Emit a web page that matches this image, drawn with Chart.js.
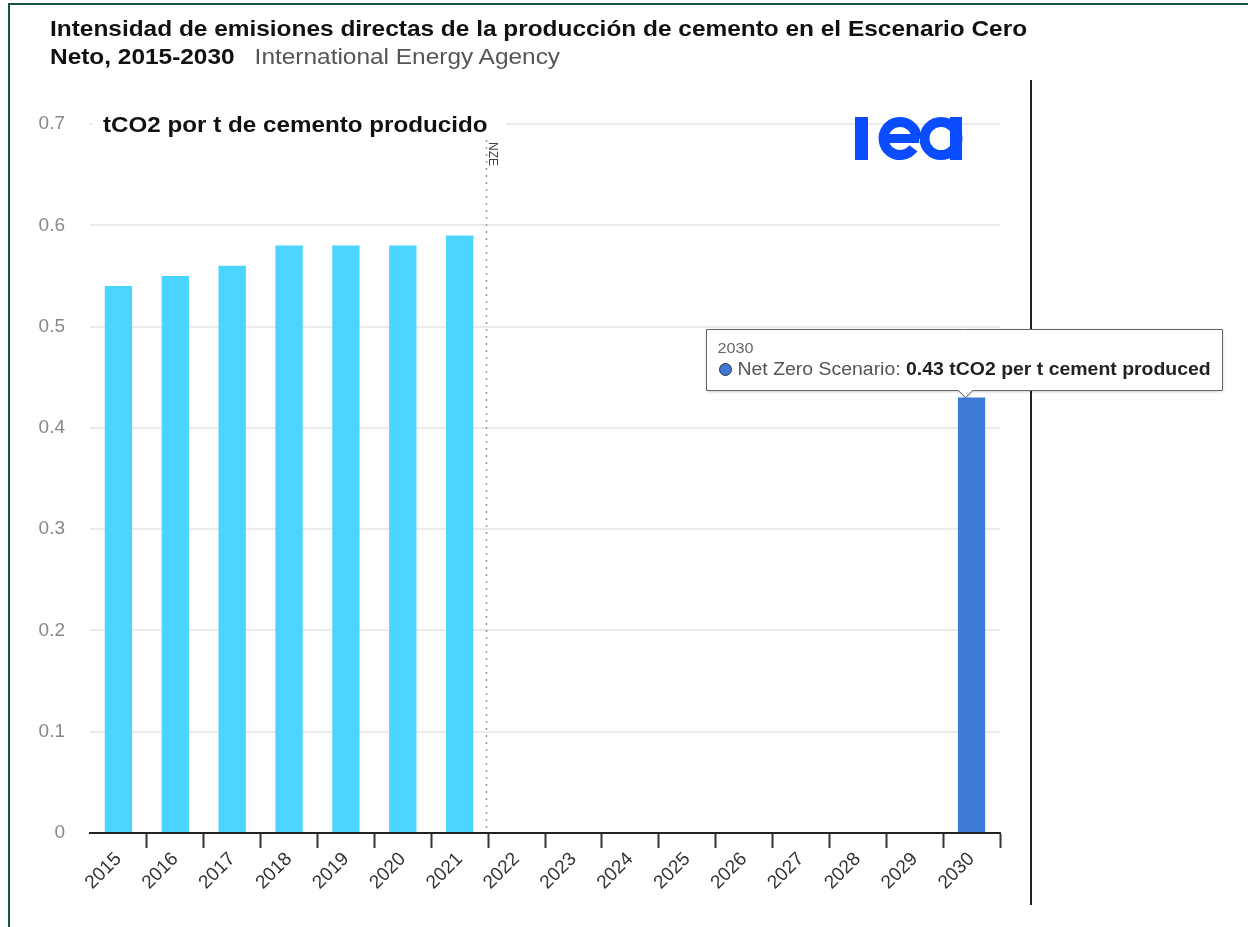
<!DOCTYPE html>
<html>
<head>
<meta charset="utf-8">
<script src="https://cdn.jsdelivr.net/npm/chart.js@4.4.1/dist/chart.umd.min.js"></script>
<style>
  body { margin: 0; background: #fff; font-family: "Liberation Sans", Arial, sans-serif; }
  #wrap { position: relative; width: 1248px; height: 927px; overflow: hidden; background: #fff; }
  #frame { position: absolute; left: 8px; top: 3px; width: 1300px; height: 1000px; border: 2px solid #17583a; }
  #chart { position: absolute; left: 0; top: 0; }
  #title { position: absolute; left: 50px; top: 15px; font-size: 22px; line-height: 28px; font-weight: bold; color: #111;
           white-space: nowrap; transform: scaleX(1.11); transform-origin: 0 0; }
  #title .src { font-weight: normal; color: #555; margin-left: 18px; }
  #unit { position: absolute; left: 92px; top: 111px; width: 414px; height: 28px; background: #fff; }
  #unit span { position: absolute; left: 11px; top: 0; font-size: 22px; line-height: 28px; font-weight: bold; color: #111;
               white-space: nowrap; transform: scaleX(1.1); transform-origin: 0 0; }
  #cursor { position: absolute; left: 1030px; top: 80px; width: 2px; height: 825px; background: #222; }
</style>
</head>
<body>
<div id="wrap">
  <div id="cursor"></div>
  <canvas id="chart" width="1248" height="927"></canvas>
  <div id="frame"></div>
  <div id="title">Intensidad de emisiones directas de la producción de cemento en el Escenario Cero<br>Neto, 2015-2030<span class="src">International Energy Agency</span></div>
  <div id="unit"><span>tCO2 por t de cemento producido</span></div>
</div>
<script>
const years = ['2015','2016','2017','2018','2019','2020','2021','2022','2023','2024','2025','2026','2027','2028','2029','2030']
const historical = [0.54, 0.55, 0.56, 0.58, 0.58, 0.58, 0.59, null, null, null, null, null, null, null, null, null]
const netZero = [null, null, null, null, null, null, null, null, null, null, null, null, null, null, null, 0.43]
const yTicks = [0, 0.1, 0.2, 0.3, 0.4, 0.5, 0.6, 0.7]
const nzeAfter = '2021'
const tipIndex = 15
const tipUnit = ' tCO2 per t cement produced'

// dotted NZE marker, logo and the hover box
const overlay = {
  id: 'overlay',
  afterDatasetsDraw(chart) {
    const { ctx, chartArea, scales: { x } } = chart
    const i = years.indexOf(nzeAfter)
    const nx = Math.round((x.getPixelForValue(i) + x.getPixelForValue(i + 1)) / 2) - 1.5
    ctx.save()
    ctx.strokeStyle = '#999'
    ctx.lineWidth = 1.5
    ctx.setLineDash([2, 5])
    ctx.beginPath()
    ctx.moveTo(nx, chartArea.top + 16)
    ctx.lineTo(nx, chartArea.bottom)
    ctx.stroke()
    ctx.setLineDash([])
    ctx.translate(nx + 6, chartArea.top + 18)
    ctx.rotate(Math.PI / 2)
    ctx.fillStyle = '#444'
    ctx.font = '12px "Liberation Sans", Arial'
    ctx.textBaseline = 'middle'
    ctx.fillText('NZE', 0, 0)
    ctx.restore()

    // iea logo
    ctx.save()
    ctx.fillStyle = '#0a4cff'
    ctx.strokeStyle = '#0a4cff'
    ctx.fillRect(855, 117, 13, 43)
    ctx.lineWidth = 10
    ctx.beginPath()
    ctx.arc(900, 138.5, 16.5, 0.2 * Math.PI, 2 * Math.PI, false)
    ctx.stroke()
    ctx.fillRect(879, 134, 40, 9)
    ctx.beginPath()
    ctx.arc(941, 138.5, 16.5, 0, 2 * Math.PI)
    ctx.stroke()
    ctx.fillRect(950, 117, 12, 43)
    ctx.restore()
  },
  afterDraw(chart) {
    const { ctx } = chart
    const bar = chart.getDatasetMeta(1).data[tipIndex]
    const tipX = bar.x - 6, tipY = bar.y
    const label = 'Net Zero Scenario: '
    const value = netZero[tipIndex].toFixed(2) + tipUnit
    const sx = 1.08
    ctx.save()
    ctx.font = '18px "Liberation Sans", Arial'
    const w1 = ctx.measureText(label).width * sx
    ctx.font = 'bold 18px "Liberation Sans", Arial'
    const w2 = ctx.measureText(value).width * sx
    const bw = Math.round(31 + w1 + w2 + 12), bh = 61
    const bl = Math.round(bar.x - 266) + 0.5
    const bb = Math.round(tipY - 7) + 0.5
    const bt = bb - bh
    ctx.shadowColor = 'rgba(0,0,0,0.25)'
    ctx.shadowBlur = 3
    ctx.shadowOffsetY = 1
    ctx.beginPath()
    ctx.moveTo(bl, bt)
    ctx.lineTo(bl + bw, bt)
    ctx.lineTo(bl + bw, bb)
    ctx.lineTo(tipX + 7, bb)
    ctx.lineTo(tipX, tipY)
    ctx.lineTo(tipX - 7, bb)
    ctx.lineTo(bl, bb)
    ctx.closePath()
    ctx.fillStyle = '#fff'
    ctx.fill()
    ctx.shadowColor = 'transparent'
    ctx.strokeStyle = '#666'
    ctx.lineWidth = 1
    ctx.stroke()
    ctx.beginPath()
    ctx.arc(bl + 19, bt + 40, 6, 0, 2 * Math.PI)
    ctx.fillStyle = '#3d78d6'
    ctx.fill()
    ctx.strokeStyle = '#333'
    ctx.stroke()
    ctx.textBaseline = 'middle'
    ctx.translate(bl + 11, 0)
    ctx.scale(sx, 1)
    ctx.fillStyle = '#666'
    ctx.font = '15px "Liberation Sans", Arial'
    ctx.fillText(years[tipIndex], 0, bt + 19)
    ctx.font = '18px "Liberation Sans", Arial'
    ctx.fillStyle = '#555'
    ctx.fillText(label, 20 / sx, bt + 41)
    ctx.font = 'bold 18px "Liberation Sans", Arial'
    ctx.fillStyle = '#222'
    ctx.fillText(value, (20 + w1) / sx, bt + 41)
    ctx.restore()
  }
}

const data = {
  labels: years,
  datasets: [
    { label: 'Historical', data: historical, backgroundColor: '#4ad4ff' },
    { label: 'Net Zero Scenario', data: netZero, backgroundColor: '#3d7bd6' }
  ]
}

const config = {
  type: 'bar',
  data: data,
  options: {
    responsive: false,
    animation: false,
    events: [],
    layout: { padding: { left: 0, top: 124, right: 248, bottom: 0 } },
    datasets: { bar: { categoryPercentage: 1, barPercentage: 0.48 } },
    plugins: { legend: { display: false }, tooltip: { enabled: false } },
    scales: {
      x: {
        stacked: true,
        afterFit: s => { s.height = 94 },
        border: { color: '#222', width: 2 },
        grid: {
          offset: true,
          drawOnChartArea: false,
          tickLength: 15,
          tickWidth: 2,
          tickColor: c => c.index === 0 ? 'rgba(0,0,0,0)' : '#333'
        },
        ticks: {
          color: '#333',
          font: { family: '"Liberation Sans", Arial', size: 19 },
          minRotation: 45,
          maxRotation: 45,
          padding: 0,
          autoSkip: false
        }
      },
      y: {
        stacked: true,
        min: 0,
        max: 0.7,
        afterFit: s => { s.width = 90 },
        afterBuildTicks: s => { s.ticks = yTicks.map(v => ({ value: v })) },
        border: { display: false },
        grid: { color: '#ebebeb', lineWidth: 2, drawTicks: false },
        ticks: {
          color: '#888',
          font: { family: '"Liberation Sans", Arial', size: 19 },
          padding: 25,
          callback: v => String(Math.round(v * 10) / 10)
        }
      }
    }
  },
  plugins: [overlay]
}

const chart = new Chart(document.getElementById('chart').getContext('2d'), config)
</script>
</body>
</html>
